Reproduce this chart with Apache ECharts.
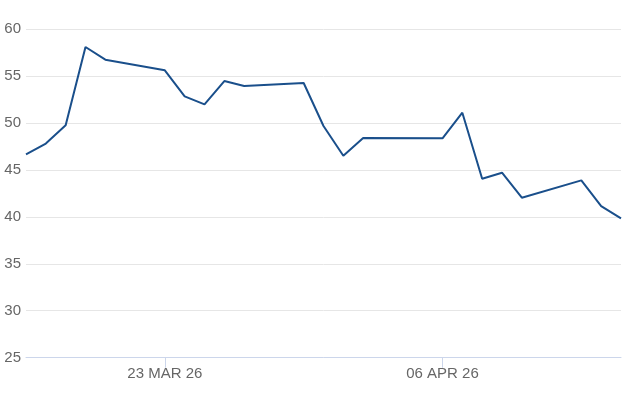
<!DOCTYPE html>
<html>
<head>
<meta charset="utf-8">
<script src="https://cdn.jsdelivr.net/npm/echarts@6/dist/echarts.min.js"></script>
<style>
html,body{margin:0;padding:0;background:#fff;}
#chart{width:626px;height:417px;}
</style>
</head>
<body>
<div id="chart"></div>
<script>
const dates = ['2026-03-16','2026-03-17','2026-03-18','2026-03-19','2026-03-20',
  '2026-03-23','2026-03-24','2026-03-25','2026-03-26','2026-03-27',
  '2026-03-30','2026-03-31','2026-04-01','2026-04-02',
  '2026-04-06','2026-04-07','2026-04-08','2026-04-09','2026-04-10',
  '2026-04-13','2026-04-14','2026-04-15'];
const values = [46.65,47.8,49.74,58.08,56.73,
  55.6,52.83,51.98,54.46,53.93,
  54.25,49.67,46.51,48.39,
  48.36,51.09,44.06,44.7,42.04,
  43.88,41.15,39.84];
const xTickDates = ['2026-03-23','2026-04-06'];
const yTicks = [25,30,35,40,45,50,55,60];
const MONTHS = ['JAN','FEB','MAR','APR','MAY','JUN','JUL','AUG','SEP','OCT','NOV','DEC'];

function ts(s){ const p=s.split('-'); return Date.UTC(+p[0], +p[1]-1, +p[2]); }
function fmt(v){
  const d = new Date(v);
  const dd = String(d.getUTCDate()).padStart(2,'0');
  return dd + ' ' + MONTHS[d.getUTCMonth()] + ' ' + String(d.getUTCFullYear()).slice(2);
}

const chart = echarts.init(document.getElementById('chart'));
const font = 'Liberation Sans, Arial, sans-serif';
const xTicks = xTickDates.map(ts);
chart.setOption({
  animation: false,
  grid: {left: 26, right: 5, top: 29, bottom: 59.3, containLabel: false},
  xAxis: {
    type: 'value',
    min: ts(dates[0]),
    max: ts(dates[dates.length-1]),
    scale: true,
    axisLine: {show: true, lineStyle: {color: '#ccd6eb', width: 1}},
    axisTick: {show: true, length: 10, lineStyle: {color: '#ccd6eb'}, customValues: xTicks},
    axisLabel: {customValues: xTicks, formatter: fmt, color: '#666666', fontSize: 15, fontFamily: font, margin: 9},
    splitLine: {show: false},
    minorTick: {show: false}
  },
  yAxis: {
    type: 'value',
    min: yTicks[0],
    max: yTicks[yTicks.length-1],
    interval: 5,
    axisLine: {show: false},
    axisTick: {show: false},
    axisLabel: {color: '#666666', fontSize: 15, fontFamily: font, margin: 5},
    splitLine: {lineStyle: {color: '#e6e6e6', width: 1}}
  },
  series: [{
    type: 'line',
    data: dates.map((d,i)=>[ts(d), values[i]]),
    showSymbol: false,
    symbol: 'none',
    lineStyle: {color: '#1a4f8b', width: 2},
    itemStyle: {color: '#1a4f8b'}
  }]
});
</script>
</body>
</html>
